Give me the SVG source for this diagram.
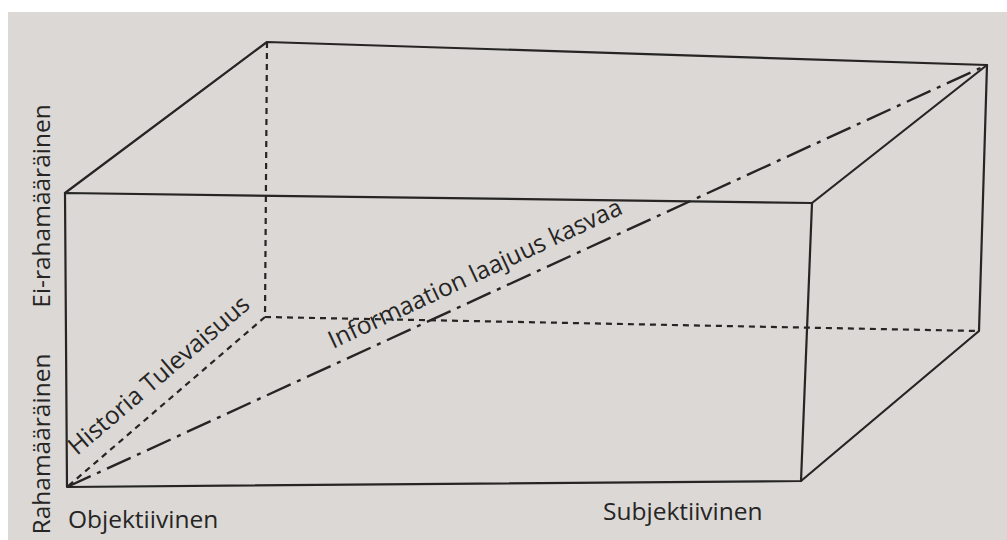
<svg xmlns="http://www.w3.org/2000/svg" width="1007" height="540" viewBox="0 0 1007 540">
<style>
.e{fill:none;stroke:#262524;stroke-width:2.2;stroke-linejoin:round;stroke-linecap:round}
.h{fill:none;stroke:#262524;stroke-width:2.2;stroke-dasharray:6 5}
.dd{fill:none;stroke:#262524;stroke-width:2.4;stroke-dasharray:26 7 4 7}
.t{font-family:"Open Sans","Noto Sans",sans-serif;font-size:24.5px;fill:#262524}
</style>
<rect width="1007" height="540" fill="#ffffff"/>
<rect x="8" y="12" width="999" height="528" fill="#dbd8d5"/>
<g id="connectors">
<path class="h" d="M267,42 L265,317"/>
<path class="h" d="M265,317 L979,331"/>
<path class="h" d="M265,317 L67,487"/>
<path class="dd" d="M67,487 L987,65"/>
<path class="e" d="M65,193 L812,203 L801,481 L67,487 Z"/>
<path class="e" d="M65,193 L267,42 L987,65 L812,203"/>
<path class="e" d="M987,65 L979,331 L801,481"/>
</g>
<g id="label-ei-rahamaarainen"><text class="t" transform="translate(50,206) rotate(-90)" text-anchor="middle">Ei-rahamääräinen</text></g>
<g id="label-rahamaarainen"><text class="t" transform="translate(50,444) rotate(-90)" text-anchor="middle">Rahamääräinen</text></g>
<g id="label-objektiivinen"><text class="t" x="68" y="528">Objektiivinen</text></g>
<g id="label-subjektiivinen"><text class="t" x="603" y="520">Subjektiivinen</text></g>
<g id="label-historia"><text class="t" transform="translate(77,456) rotate(-40.5)">Historia Tulevaisuus</text></g>
<g id="label-informaatio"><text class="t" transform="translate(333,349) rotate(-25)" font-size="24">Informaation laajuus kasvaa</text></g>
</svg>
